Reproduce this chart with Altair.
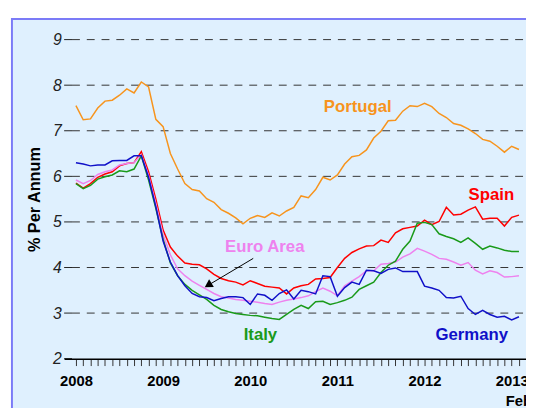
import altair as alt
import pandas as pd

# ---- data (monthly, Jan 2008 = month 0 ... Feb 2013 = month 61) ----
months = list(range(62))
portugal = [7.55, 7.24, 7.26, 7.50, 7.65, 7.67, 7.78, 7.92, 7.83, 8.07,
            7.96, 7.25, 7.09, 6.50, 6.16, 5.84, 5.71, 5.68, 5.51, 5.43,
            5.27, 5.19, 5.09, 4.96, 5.08, 5.14, 5.10, 5.20, 5.13, 5.24,
            5.32, 5.57, 5.53, 5.71, 5.98, 5.92, 6.03, 6.27, 6.43, 6.46,
            6.58, 6.84, 6.99, 7.22, 7.23, 7.43, 7.55, 7.53, 7.60, 7.53,
            7.38, 7.29, 7.16, 7.12, 7.04, 6.94, 6.81, 6.77, 6.66, 6.53,
            6.66, 6.59]
spain = [5.85, 5.74, 5.84, 5.98, 6.05, 6.10, 6.23, 6.28, 6.30, 6.54,
         6.10, 5.50, 4.82, 4.45, 4.25, 4.10, 4.07, 4.06, 3.97, 3.85,
         3.76, 3.71, 3.68, 3.62, 3.71, 3.65, 3.59, 3.57, 3.55, 3.42,
         3.55, 3.60, 3.63, 3.75, 3.76, 3.78, 4.00, 4.20, 4.33, 4.41,
         4.47, 4.48, 4.60, 4.55, 4.76, 4.85, 4.88, 4.91, 5.04, 4.94,
         5.01, 5.32, 5.15, 5.17, 5.26, 5.33, 5.06, 5.08, 5.08, 4.91,
         5.10, 5.15]
euro_area = [5.92, 5.84, 5.91, 6.04, 6.10, 6.14, 6.25, 6.28, 6.30, 6.48,
             6.02, 5.40, 4.72, 4.28, 3.97, 3.82, 3.70, 3.61, 3.52, 3.43,
             3.36, 3.33, 3.30, 3.28, 3.26, 3.24, 3.21, 3.19, 3.24, 3.28,
             3.31, 3.34, 3.38, 3.47, 3.55, 3.48, 3.38, 3.60, 3.70, 3.80,
             3.93, 3.93, 4.07, 4.09, 4.12, 4.23, 4.30, 4.42, 4.36, 4.29,
             4.20, 4.18, 4.12, 4.05, 4.11, 3.94, 3.86, 3.93, 3.89, 3.79,
             3.80, 3.82]
italy = [5.84, 5.73, 5.80, 5.94, 5.99, 6.03, 6.12, 6.10, 6.16, 6.45,
         5.92, 5.30, 4.62, 4.10, 3.82, 3.63, 3.50, 3.40, 3.30, 3.17,
         3.08, 3.03, 2.99, 2.97, 2.95, 2.94, 2.91, 2.88, 2.86, 2.97,
         3.08, 3.17, 3.10, 3.25, 3.26, 3.19, 3.23, 3.28, 3.35, 3.52,
         3.60, 3.68, 3.89, 4.05, 4.14, 4.40, 4.58, 4.97, 4.99, 4.94,
         4.74, 4.68, 4.63, 4.55, 4.65, 4.53, 4.40, 4.47, 4.43, 4.38,
         4.35, 4.35]
germany = [6.30, 6.27, 6.23, 6.25, 6.25, 6.34, 6.35, 6.35, 6.45, 6.45,
           5.98, 5.33, 4.58, 4.12, 3.82, 3.60, 3.43, 3.36, 3.34, 3.27,
           3.32, 3.36, 3.36, 3.34, 3.19, 3.42, 3.39, 3.28, 3.43, 3.51,
           3.31, 3.50, 3.47, 3.42, 3.82, 3.80, 3.37, 3.56, 3.68, 3.63,
           3.94, 3.93, 3.87, 3.96, 3.99, 3.91, 3.91, 3.91, 3.59, 3.55,
           3.50, 3.34, 3.33, 3.37, 3.10, 2.97, 3.06, 2.97, 2.91, 2.93,
           2.85, 2.92]

series_names = ["Portugal", "Spain", "Euro Area", "Italy", "Germany"]
series_colors = ["#f7941d", "#ff0000", "#ee82ee", "#1a9a1a", "#1010c8"]
series_values = [portugal, spain, euro_area, italy, germany]

y_ticks = [2, 3, 4, 5, 6, 7, 8, 9]
grid_values = [3, 4, 5, 6, 7, 8, 9]
x_tick_months = list(range(0, 62))
first_year = 2008

label_text = ["Portugal", "Spain", "Euro Area", "Italy", "Germany"]
label_x = [38.8, 57.2, 26.0, 25.4, 54.5]
label_y = [7.42, 5.49, 4.34, 2.40, 2.40]

arrow_from_x = [24.41]
arrow_from_y = [4.20]
arrow_to_x = [18.2]
arrow_to_y = [3.61]
arrow_angle = [238.5]

latest_label = ["Feb"]
latest_month = [61]

# ---- build tables ----
rows = []
for name, vals in zip(series_names, series_values):
    for m, v in zip(months, vals):
        rows.append({"month": m, "rate": v, "series": name})
lines_df = pd.DataFrame(rows)
grid_df = pd.DataFrame({"rate": grid_values})
tick_df = pd.DataFrame({"rate": y_ticks})
labels_df = pd.DataFrame({"month": label_x, "rate": label_y,
                          "series": label_text, "txt": label_text})
arrow_df = pd.DataFrame({"month": arrow_from_x, "rate": arrow_from_y,
                         "month2": arrow_to_x, "rate2": arrow_to_y,
                         "ang": arrow_angle})
feb_df = pd.DataFrame({"month": latest_month, "txt": latest_label})

W, H = 469, 324
FONT = "Liberation Sans"
xs = alt.Scale(domain=[-1.627, 61.97], nice=False, zero=False)
ys = alt.Scale(domain=[2, 9], nice=False, zero=False)
cs = alt.Scale(domain=series_names, range=series_colors)

x_axis = alt.Axis(
    values=x_tick_months, tickSize=7, tickColor="#333333", tickWidth=1,
    domainColor="#000000", domainWidth=1.5, grid=False, title=None,
    labelExpr=f"datum.value % 12 == 0 ? '' + ({first_year} + datum.value / 12) : ''",
    labelFont=FONT, labelFontWeight="bold", labelFontSize=15,
    labelColor="#000000", labelPadding=8, labelOverlap=False,
    labelFlush=False, zindex=1)
y_axis = alt.Axis(
    values=y_ticks, ticks=False, domain=False, grid=False,
    labelFont=FONT, labelFontStyle="italic", labelFontSize=16,
    labelColor="#222222", labelPadding=3, labelOverlap=False,
    title="% Per Annum", titleFont=FONT, titleFontSize=16.5,
    titleFontWeight="bold", titleColor="#000000", titleX=-25,
    titleBaseline="alphabetic", zindex=1)

X = alt.X("month:Q", scale=xs, axis=x_axis)
Y = alt.Y("rate:Q", scale=ys, axis=y_axis)

bg = alt.Chart(pd.DataFrame({"a": [0]})).mark_rect(
    fill="#dff0fe", stroke="#7b7bf7", strokeWidth=2
).encode(x=alt.value(-53), x2=alt.value(W + 80),
         y=alt.value(-21), y2=alt.value(H + 120))

grid = alt.Chart(grid_df).mark_rule(
    color="#333333", strokeDash=[8, 7], strokeWidth=1
).encode(y=Y, x=alt.value(8), x2=alt.value(W))

yticks = alt.Chart(tick_df).mark_rule(color="#222222", strokeWidth=1).encode(
    y=Y, x=alt.value(0), x2=alt.value(8))

lines = alt.Chart(lines_df).mark_line(strokeWidth=1.5).encode(
    x=X, y=Y,
    color=alt.Color("series:N", scale=cs, legend=None),
    detail="series:N")

labels = alt.Chart(labels_df).mark_text(
    font=FONT, fontWeight="bold", fontSize=17, align="center",
    baseline="alphabetic"
).encode(x=X, y=Y, text="txt:N",
         color=alt.Color("series:N", scale=cs, legend=None))

arrow = alt.Chart(arrow_df).mark_rule(color="#000000", strokeWidth=1).encode(
    x=X, y=Y, x2="month2:Q", y2="rate2:Q")
head = alt.Chart(arrow_df).mark_point(
    shape="triangle-up", filled=True, color="#000000", size=85, opacity=1
).encode(x=alt.X("month2:Q", scale=xs, axis=x_axis),
         y=alt.Y("rate2:Q", scale=ys, axis=y_axis),
         angle=alt.Angle("ang:Q", scale=None))

feb = alt.Chart(feb_df).mark_text(
    font=FONT, fontWeight="bold", fontSize=15, align="center",
    baseline="alphabetic", color="#000000"
).encode(x=X, y=alt.value(372.5), text="txt:N")

chart = alt.layer(bg, grid, yticks, lines, labels, arrow, head, feb).properties(
    width=W, height=H,
    padding={"left": 57, "top": 29, "right": 0, "bottom": 47},
    autosize=alt.AutoSizeParams(type="none"),
).configure_view(stroke=None)

chart.save("out.html", embed_options={"renderer": "svg", "actions": False})
